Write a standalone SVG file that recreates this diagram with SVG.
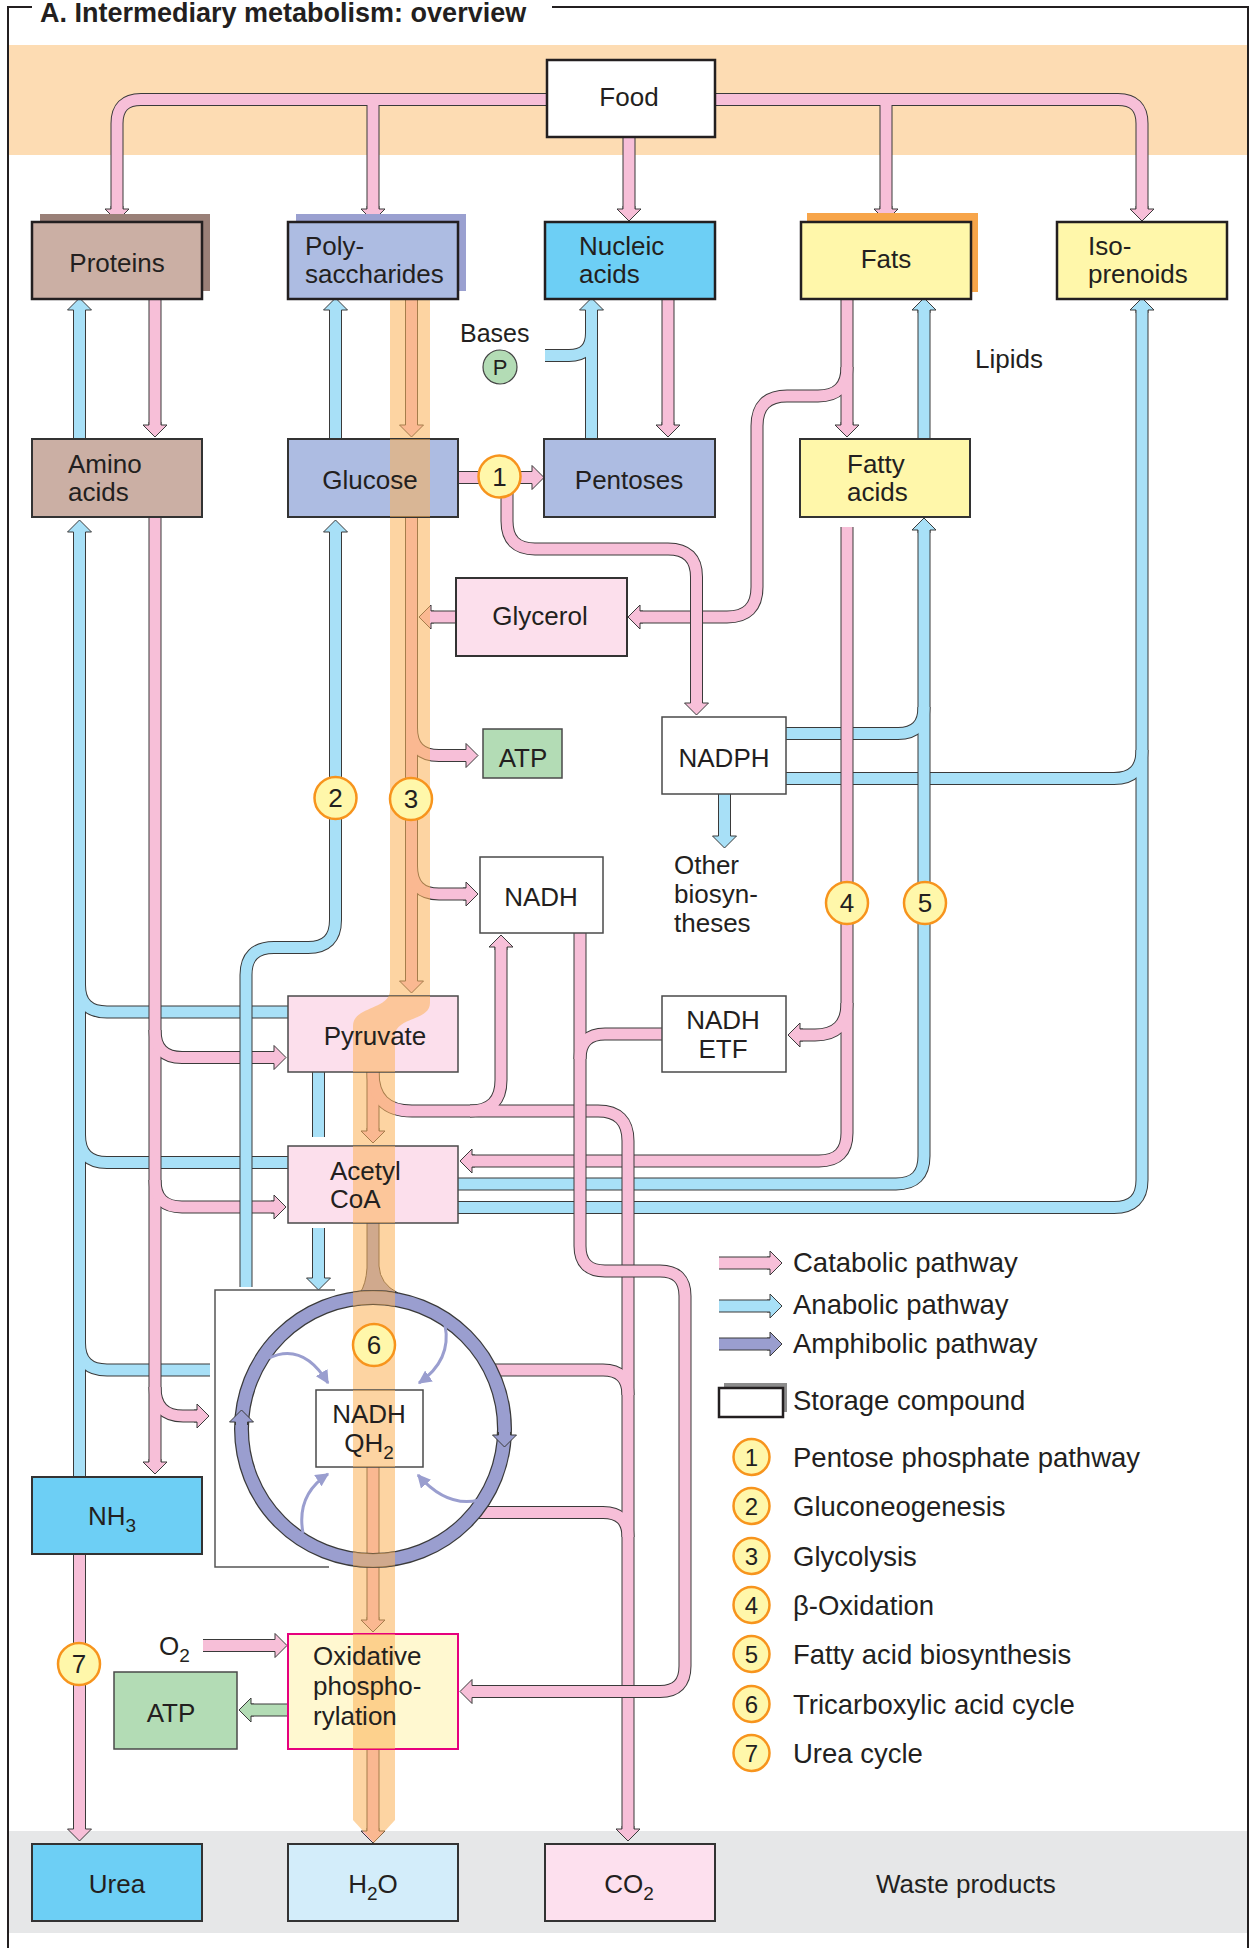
<svg xmlns="http://www.w3.org/2000/svg" xmlns:xlink="http://www.w3.org/1999/xlink" width="1249" height="1948" viewBox="0 0 1249 1948">
<defs>
<style>
text{font-family:"Liberation Sans",Arial,sans-serif;fill:#231f20;font-size:26px}
.tm{text-anchor:middle}
.lg{font-size:27.5px}
.ttl{font-size:27px;font-weight:bold}
.po{fill:none;stroke:#3a3a3a;stroke-width:13}
.pp{fill:none;stroke:#f7bfd8;stroke-width:11}
.pb{fill:none;stroke:#a8e0f7;stroke-width:11}
.hp{fill:#f7bfd8;stroke:#3a3a3a;stroke-width:1}
.hb{fill:#a8e0f7;stroke:#3a3a3a;stroke-width:1}
.hv{fill:#9a9ecf;stroke:#3a3a3a;stroke-width:1}
.hg{fill:#b3dcb5;stroke:#3a3a3a;stroke-width:1}
.bx{stroke:#231f20;stroke-width:2.5}
.bm{stroke:#333;stroke-width:2}
.bl{stroke:#4a4a4a;stroke-width:1.5}
.bd{fill:#fbb259;opacity:.56}
.badge{fill:#fff7aa;stroke:#f7941d;stroke-width:2.5}
.thin{fill:none;stroke:#9a9ecf;stroke-width:3}
.frame{fill:none;stroke:#231f20;stroke-width:2}
</style>
<path id="ah" d="M-6,-3 V0 H-12 L0,12 L12,0 H6 V-3"/>
<marker id="mv" viewBox="0 0 10 10" refX="9" refY="5" markerWidth="4.5" markerHeight="4.5" orient="auto" markerUnits="strokeWidth"><path d="M0,0 L10,5 L0,10 Z" fill="#9a9ecf"/></marker>
<path id="band" d="M390,299 H430 V1003 C430,1021 395,1017 395,1036 V1820 L374,1843 L353,1820 V1026 C353,1006 390,1010 390,990 Z"/>
<clipPath id="cGlu"><rect x="288" y="439" width="170" height="78"/></clipPath>
<clipPath id="cPyr"><rect x="288" y="996" width="170" height="76"/></clipPath>
<clipPath id="cAce"><rect x="288" y="1146" width="170" height="77"/></clipPath>
<clipPath id="cOx"><rect x="288" y="1634" width="170" height="115"/></clipPath>
<clipPath id="cQH"><rect x="316" y="1390" width="107" height="77"/></clipPath>
<clipPath id="cRing"><path clip-rule="evenodd" d="M234.5,1429 a138.5,138.5 0 1,0 277,0 a138.5,138.5 0 1,0 -277,0 Z M248.5,1429 a124.5,124.5 0 1,0 249,0 a124.5,124.5 0 1,0 -249,0 Z"/></clipPath>
<g id="gFood">
<path d="M547,99.5 H141 Q117,99.5 117,123.5 V209"/>
<path d="M715,99.5 H1118 Q1142,99.5 1142,123.5 V209"/>
<path d="M373,99.5 V209"/><path d="M886,99.5 V209"/><path d="M629,137 V209"/>
</g>
<g id="gP1">
<path d="M155,298 V425"/><path d="M668,298 V425"/><path d="M458,477.5 H532"/>
<path d="M456,617 H431"/><path d="M203,1645.5 H275"/><path d="M79.5,1554 V1829"/>
<path d="M373,1466 V1620"/><path d="M373,1749 V1831"/>
</g>
<g id="gFats">
<path d="M847,298 V425"/>
<path d="M847,367 Q847,396 818,396 H787 Q757,396 757,426 V587 Q757,617 727,617 H640"/>
</g>
<g id="gPPP"><path d="M507,477 V521 Q507,549 535,549 H668 Q696.5,549 696.5,577 V703"/></g>
<g id="gGly">
<path d="M411.5,299 V425"/><path d="M411.5,517 V981"/>
<path d="M411.5,728 Q411.5,755.5 439,755.5 H466"/>
<path d="M411.5,866 Q411.5,894 439,894 H466"/>
</g>
<g id="gBox">
<path d="M847,527 V1133 Q847,1161 819,1161 H472"/>
<path d="M847,1003 Q847,1035 815,1035 H800"/>
</g>
<g id="gAA">
<path d="M155,517 V1462"/>
<path d="M155,1030 Q155,1057.5 182,1057.5 H274"/>
<path d="M155,1180 Q155,1207 182,1207 H274"/>
<path d="M155,1387 Q155,1416 183,1416 H197"/>
</g>
<g id="gPyr">
<path d="M373,1072 V1131"/>
<path d="M373,1072 Q373,1111 412,1111 H598 Q628,1111 628,1141 V1829"/>
<path d="M470,1111 Q501,1111 501,1080 V947"/>
<path d="M490,1370 H603 Q628,1370 628,1395"/>
<path d="M478,1512.5 H603 Q628,1512.5 628,1537"/>
</g>
<g id="gNADH">
<path d="M580,933 V1246 Q580,1271 605,1271 H660 Q685,1271 685,1296 V1666 Q685,1691.5 660,1691.5 H472"/>
<path d="M662,1034 H605 Q580,1034 580,1059"/>
</g>
<g id="gB1">
<path d="M79.5,439 V310"/><path d="M335.5,439 V310"/><path d="M924,439 V310"/>
<path d="M724.5,794 V836"/><path d="M318.5,1072 V1137"/><path d="M318.5,1228 V1278"/>
</g>
<g id="gBNuc"><path d="M591.5,439 V310"/><path d="M545,355.5 H569 Q591.5,355.5 591.5,333"/></g>
<g id="gBIso"><path d="M458,1207.5 H1114 Q1142,1207.5 1142,1180 V310"/><path d="M786,778.5 H1114 Q1142,778.5 1142,750"/></g>
<g id="gBFA"><path d="M458,1184 H896 Q924,1184 924,1156 V530"/><path d="M786,733.5 H898 Q924,733.5 924,707"/></g>
<g id="gBPyr">
<path d="M79.5,1477 V532"/>
<path d="M288,1012 H107 Q79.5,1012 79.5,985"/>
<path d="M288,1162.5 H107 Q79.5,1162.5 79.5,1135"/>
<path d="M210,1370 H107 Q79.5,1370 79.5,1343"/>
</g>
<g id="gBGng"><path d="M246,1287 V975 Q246,947.5 274,947.5 H308 Q335.5,947.5 335.5,920 V532"/></g>
<g id="gLeg"><path d="M719,1263 H770"/></g>
</defs>

<g id="background">
<rect x="9" y="45" width="1238" height="110" fill="#fddcb3"/>
<rect x="9" y="1831" width="1238" height="102" fill="#e6e7e8"/>
<path class="frame" d="M32,7 H8 V1948 M552,7 H1248 V1948"/>
<text class="ttl" x="40" y="22">A. Intermediary metabolism: overview</text>
</g>

<g id="connectors">
<use href="#gFood" class="po"/><use href="#gFood" class="pp"/>
<use href="#ah" class="hp" transform="translate(117,209)"/>
<use href="#ah" class="hp" transform="translate(373,209)"/>
<use href="#ah" class="hp" transform="translate(629,209)"/>
<use href="#ah" class="hp" transform="translate(886,209)"/>
<use href="#ah" class="hp" transform="translate(1142,209)"/>

<use href="#gP1" class="po"/><use href="#gP1" class="pp"/>
<use href="#ah" class="hp" transform="translate(155,425)"/>
<use href="#ah" class="hp" transform="translate(668,425)"/>
<use href="#ah" class="hp" transform="translate(532,477.5) rotate(-90)"/>
<use href="#ah" class="hp" transform="translate(431,617) rotate(90)"/>
<use href="#ah" class="hp" transform="translate(275,1645.5) rotate(-90)"/>
<use href="#ah" class="hp" transform="translate(79.5,1829)"/>
<use href="#ah" class="hp" transform="translate(373,1620)"/>
<use href="#ah" class="hp" transform="translate(373,1831)"/>

<use href="#gFats" class="po"/><use href="#gFats" class="pp"/>
<use href="#ah" class="hp" transform="translate(847,425)"/>
<use href="#ah" class="hp" transform="translate(640,617) rotate(90)"/>

<use href="#gPPP" class="po"/><use href="#gPPP" class="pp"/>
<use href="#ah" class="hp" transform="translate(696.5,703)"/>

<use href="#gGly" class="po"/><use href="#gGly" class="pp"/>
<use href="#ah" class="hp" transform="translate(411.5,425)"/>
<use href="#ah" class="hp" transform="translate(411.5,981)"/>
<use href="#ah" class="hp" transform="translate(466,755.5) rotate(-90)"/>
<use href="#ah" class="hp" transform="translate(466,894) rotate(-90)"/>

<use href="#gBNuc" class="po"/><use href="#gBNuc" class="pb"/>
<use href="#ah" class="hb" transform="translate(591.5,310) rotate(180)"/>

<use href="#gB1" class="po"/><use href="#gB1" class="pb"/>
<use href="#ah" class="hb" transform="translate(79.5,310) rotate(180)"/>
<use href="#ah" class="hb" transform="translate(335.5,310) rotate(180)"/>
<use href="#ah" class="hb" transform="translate(924,310) rotate(180)"/>
<use href="#ah" class="hb" transform="translate(724.5,836)"/>
<use href="#ah" class="hb" transform="translate(318.5,1278)"/>

<use href="#gBIso" class="po"/><use href="#gBIso" class="pb"/>
<use href="#ah" class="hb" transform="translate(1142,310) rotate(180)"/>

<use href="#gBFA" class="po"/><use href="#gBFA" class="pb"/>
<use href="#ah" class="hb" transform="translate(924,530) rotate(180)"/>

<use href="#gBox" class="po"/><use href="#gBox" class="pp"/>
<use href="#ah" class="hp" transform="translate(472,1161) rotate(90)"/>
<use href="#ah" class="hp" transform="translate(800,1035) rotate(90)"/>

<use href="#gBPyr" class="po"/><use href="#gBPyr" class="pb"/>
<use href="#ah" class="hb" transform="translate(79.5,532) rotate(180)"/>

<use href="#gAA" class="po"/><use href="#gAA" class="pp"/>
<use href="#ah" class="hp" transform="translate(155,1462)"/>
<use href="#ah" class="hp" transform="translate(274,1057.5) rotate(-90)"/>
<use href="#ah" class="hp" transform="translate(274,1207) rotate(-90)"/>
<use href="#ah" class="hp" transform="translate(197,1416) rotate(-90)"/>

<use href="#gBGng" class="po"/><use href="#gBGng" class="pb"/>
<use href="#ah" class="hb" transform="translate(335.5,532) rotate(180)"/>

<use href="#gPyr" class="po"/><use href="#gPyr" class="pp"/>
<use href="#ah" class="hp" transform="translate(373,1131)"/>
<use href="#ah" class="hp" transform="translate(628,1829)"/>
<use href="#ah" class="hp" transform="translate(501,947) rotate(180)"/>

<use href="#gNADH" class="po"/><use href="#gNADH" class="pp"/>
<use href="#ah" class="hp" transform="translate(472,1691.5) rotate(90)"/>

<path d="M288,1710 H251" fill="none" stroke="#3a3a3a" stroke-width="13"/>
<path d="M288,1710 H251" fill="none" stroke="#b3dcb5" stroke-width="11"/>
<use href="#ah" class="hg" transform="translate(251,1710) rotate(90)"/>

<path d="M367,1223 V1268 Q366,1284 360,1293 H398 Q380,1284 379,1266 V1223" fill="#9a9ecf" stroke="#3a3a3a" stroke-width="1"/>
<path d="M335,1290 H215 V1567 H329" fill="none" stroke="#555" stroke-width="1.5"/>
</g>

<use href="#band" class="bd"/>

<g id="food"><rect x="547" y="60" width="168" height="77" fill="#fff" class="bx"/><text class="tm" x="629" y="106">Food</text></g>
<g id="proteins"><rect x="40" y="214" width="170" height="77" fill="#9a8078"/><rect x="32" y="222" width="170" height="77" fill="#cbafa4" class="bx"/><text class="tm" x="117" y="272">Proteins</text></g>
<g id="polysaccharides"><rect x="296" y="214" width="170" height="77" fill="#9aa0d0"/><rect x="288" y="222" width="170" height="77" fill="#adbce2" class="bx"/><text x="305" y="255">Poly-</text><text x="305" y="283">saccharides</text></g>
<g id="nucleic-acids"><rect x="545" y="222" width="170" height="77" fill="#6dcff5" class="bx"/><text x="579" y="255">Nucleic</text><text x="579" y="283">acids</text></g>
<g id="fats"><rect x="807" y="213" width="171" height="79" fill="#f7a54a"/><rect x="801" y="222" width="170" height="77" fill="#fff7aa" class="bx"/><text class="tm" x="886" y="268">Fats</text></g>
<g id="isoprenoids"><rect x="1057" y="222" width="170" height="77" fill="#fff7aa" class="bx"/><text x="1088" y="255">Iso-</text><text x="1088" y="283">prenoids</text></g>
<g id="lipids-label"><text x="975" y="368">Lipids</text></g>
<g id="bases"><text x="460" y="342" style="font-size:25px">Bases</text><circle cx="500" cy="367" r="17" fill="#b3dcb5" stroke="#444" stroke-width="1.2"/><text class="tm" x="500" y="375" style="font-size:22px">P</text></g>

<g id="amino-acids"><rect x="32" y="439" width="170" height="78" fill="#cbafa4" class="bm"/><text x="68" y="473">Amino</text><text x="68" y="501">acids</text></g>
<g id="glucose"><rect x="288" y="439" width="170" height="78" fill="#adbce2" class="bm"/><use href="#band" class="bd" clip-path="url(#cGlu)"/><text class="tm" x="370" y="489">Glucose</text></g>
<g id="pentoses"><rect x="544" y="439" width="171" height="78" fill="#adbce2" class="bm"/><text class="tm" x="629" y="489">Pentoses</text></g>
<g id="fatty-acids"><rect x="800" y="439" width="170" height="78" fill="#fff7aa" class="bm"/><text x="847" y="473">Fatty</text><text x="847" y="501">acids</text></g>
<g id="glycerol"><rect x="456" y="578" width="171" height="78" fill="#fcdfec" class="bm"/><text class="tm" x="540" y="625">Glycerol</text></g>
<g id="atp1"><rect x="483" y="729" width="79" height="49" fill="#b3dcb5" class="bl"/><text class="tm" x="523" y="767">ATP</text></g>
<g id="nadph"><rect x="662" y="717" width="124" height="77" fill="#fff" class="bl"/><text class="tm" x="724" y="767">NADPH</text></g>
<g id="other-biosyntheses"><text x="674" y="874">Other</text><text x="674" y="903">biosyn-</text><text x="674" y="932">theses</text></g>
<g id="nadh"><rect x="480" y="857" width="123" height="76" fill="#fff" class="bl"/><text class="tm" x="541" y="906">NADH</text></g>
<g id="nadh-etf"><rect x="662" y="996" width="124" height="76" fill="#fff" class="bl"/><text class="tm" x="723" y="1029">NADH</text><text class="tm" x="723" y="1058">ETF</text></g>
<g id="pyruvate"><rect x="288" y="996" width="170" height="76" fill="#fcdfec" class="bl"/><use href="#band" class="bd" clip-path="url(#cPyr)"/><text class="tm" x="375" y="1045">Pyruvate</text></g>
<g id="acetyl-coa"><rect x="288" y="1146" width="170" height="77" fill="#fcdfec" class="bl"/><use href="#band" class="bd" clip-path="url(#cAce)"/><text x="330" y="1180">Acetyl</text><text x="330" y="1208">CoA</text></g>

<g id="tca-cycle">
<circle cx="373" cy="1429" r="131.5" fill="none" stroke="#3a3a3a" stroke-width="15"/>
<circle cx="373" cy="1429" r="131.5" fill="none" stroke="#9a9ecf" stroke-width="12.5"/>
<use href="#band" class="bd" clip-path="url(#cRing)"/>
<use href="#ah" class="hv" transform="translate(241.5,1422) rotate(180)"/>
<use href="#ah" class="hv" transform="translate(504.5,1435)"/>
<path class="thin" marker-end="url(#mv)" d="M269,1358 Q303,1342 328,1383"/>
<path class="thin" marker-end="url(#mv)" d="M445,1325 Q452,1360 419,1383"/>
<path class="thin" marker-end="url(#mv)" d="M303,1533 Q296,1495 328,1474"/>
<path class="thin" marker-end="url(#mv)" d="M479,1500 Q447,1508 418,1475"/>
</g>
<g id="nadh-qh2"><rect x="316" y="1390" width="107" height="77" fill="#fff" class="bl"/><use href="#band" class="bd" clip-path="url(#cQH)"/><text class="tm" x="369" y="1423">NADH</text><text class="tm" x="369" y="1452">QH<tspan dy="7" style="font-size:19px">2</tspan></text></g>

<g id="nh3"><rect x="32" y="1477" width="170" height="77" fill="#6dcff5" class="bm"/><text class="tm" x="112" y="1525">NH<tspan dy="7" style="font-size:19px">3</tspan></text></g>
<g id="o2"><text x="159" y="1655">O<tspan dy="7" style="font-size:19px">2</tspan></text></g>
<g id="oxidative-phosphorylation"><rect x="288" y="1634" width="170" height="115" fill="#fff8d0" stroke="#e6007e" stroke-width="2"/><use href="#band" class="bd" clip-path="url(#cOx)"/><text x="313" y="1665">Oxidative</text><text x="313" y="1695">phospho-</text><text x="313" y="1725">rylation</text></g>
<g id="atp2"><rect x="114" y="1672" width="123" height="77" fill="#b3dcb5" class="bl"/><text class="tm" x="171" y="1722">ATP</text></g>

<g id="urea"><rect x="32" y="1844" width="170" height="77" fill="#6dcff5" class="bm"/><text class="tm" x="117" y="1893">Urea</text></g>
<g id="h2o"><rect x="288" y="1844" width="170" height="77" fill="#d3edfa" class="bm"/><text class="tm" x="373" y="1893">H<tspan dy="7" style="font-size:19px">2</tspan><tspan dy="-7">O</tspan></text></g>
<g id="co2"><rect x="545" y="1844" width="170" height="77" fill="#fde0ee" class="bm"/><text class="tm" x="629" y="1893">CO<tspan dy="7" style="font-size:19px">2</tspan></text></g>
<g id="waste-label"><text x="876" y="1893">Waste products</text></g>

<g id="badges">
<circle class="badge" cx="499.5" cy="476.5" r="21"/><text class="tm" x="499.5" y="486">1</text>
<circle class="badge" cx="335.5" cy="798" r="21"/><text class="tm" x="335.5" y="807">2</text>
<circle class="badge" cx="411" cy="799" r="21"/><text class="tm" x="411" y="808">3</text>
<circle class="badge" cx="847" cy="903" r="21"/><text class="tm" x="847" y="912">4</text>
<circle class="badge" cx="925" cy="903" r="21"/><text class="tm" x="925" y="912">5</text>
<circle class="badge" cx="374" cy="1345" r="21"/><text class="tm" x="374" y="1354">6</text>
<circle class="badge" cx="79" cy="1664" r="21"/><text class="tm" x="79" y="1673">7</text>
</g>

<g id="legend">
<use href="#gLeg" class="po"/><use href="#gLeg" class="pp"/><use href="#ah" class="hp" transform="translate(770,1263) rotate(-90)"/>
<use href="#gLeg" class="po" transform="translate(0,43)"/><use href="#gLeg" class="pb" transform="translate(0,43)"/><use href="#ah" class="hb" transform="translate(770,1306) rotate(-90)"/>
<use href="#gLeg" class="po" transform="translate(0,81)"/><use href="#gLeg" fill="none" stroke="#9a9ecf" stroke-width="11" transform="translate(0,81)"/><use href="#ah" class="hv" transform="translate(770,1344) rotate(-90)"/>
<text class="lg" x="793" y="1272">Catabolic pathway</text>
<text class="lg" x="793" y="1314">Anabolic pathway</text>
<text class="lg" x="793" y="1353">Amphibolic pathway</text>
<rect x="724" y="1383" width="63" height="29" fill="#8c8c8c"/>
<rect x="719" y="1388" width="64" height="29" fill="#fff" stroke="#231f20" stroke-width="2.5"/>
<text class="lg" x="793" y="1410">Storage compound</text>
<circle class="badge" cx="751.5" cy="1457" r="18"/><text class="tm" x="751.5" y="1466" style="font-size:24px">1</text><text class="lg" x="793" y="1467">Pentose phosphate pathway</text>
<circle class="badge" cx="751.5" cy="1506" r="18"/><text class="tm" x="751.5" y="1515" style="font-size:24px">2</text><text class="lg" x="793" y="1516">Gluconeogenesis</text>
<circle class="badge" cx="751.5" cy="1556" r="18"/><text class="tm" x="751.5" y="1565" style="font-size:24px">3</text><text class="lg" x="793" y="1566">Glycolysis</text>
<circle class="badge" cx="751.5" cy="1605" r="18"/><text class="tm" x="751.5" y="1614" style="font-size:24px">4</text><text class="lg" x="793" y="1615">β-Oxidation</text>
<circle class="badge" cx="751.5" cy="1654" r="18"/><text class="tm" x="751.5" y="1663" style="font-size:24px">5</text><text class="lg" x="793" y="1664">Fatty acid biosynthesis</text>
<circle class="badge" cx="751.5" cy="1704" r="18"/><text class="tm" x="751.5" y="1713" style="font-size:24px">6</text><text class="lg" x="793" y="1714">Tricarboxylic acid cycle</text>
<circle class="badge" cx="751.5" cy="1753" r="18"/><text class="tm" x="751.5" y="1762" style="font-size:24px">7</text><text class="lg" x="793" y="1763">Urea cycle</text>
</g>
</svg>
